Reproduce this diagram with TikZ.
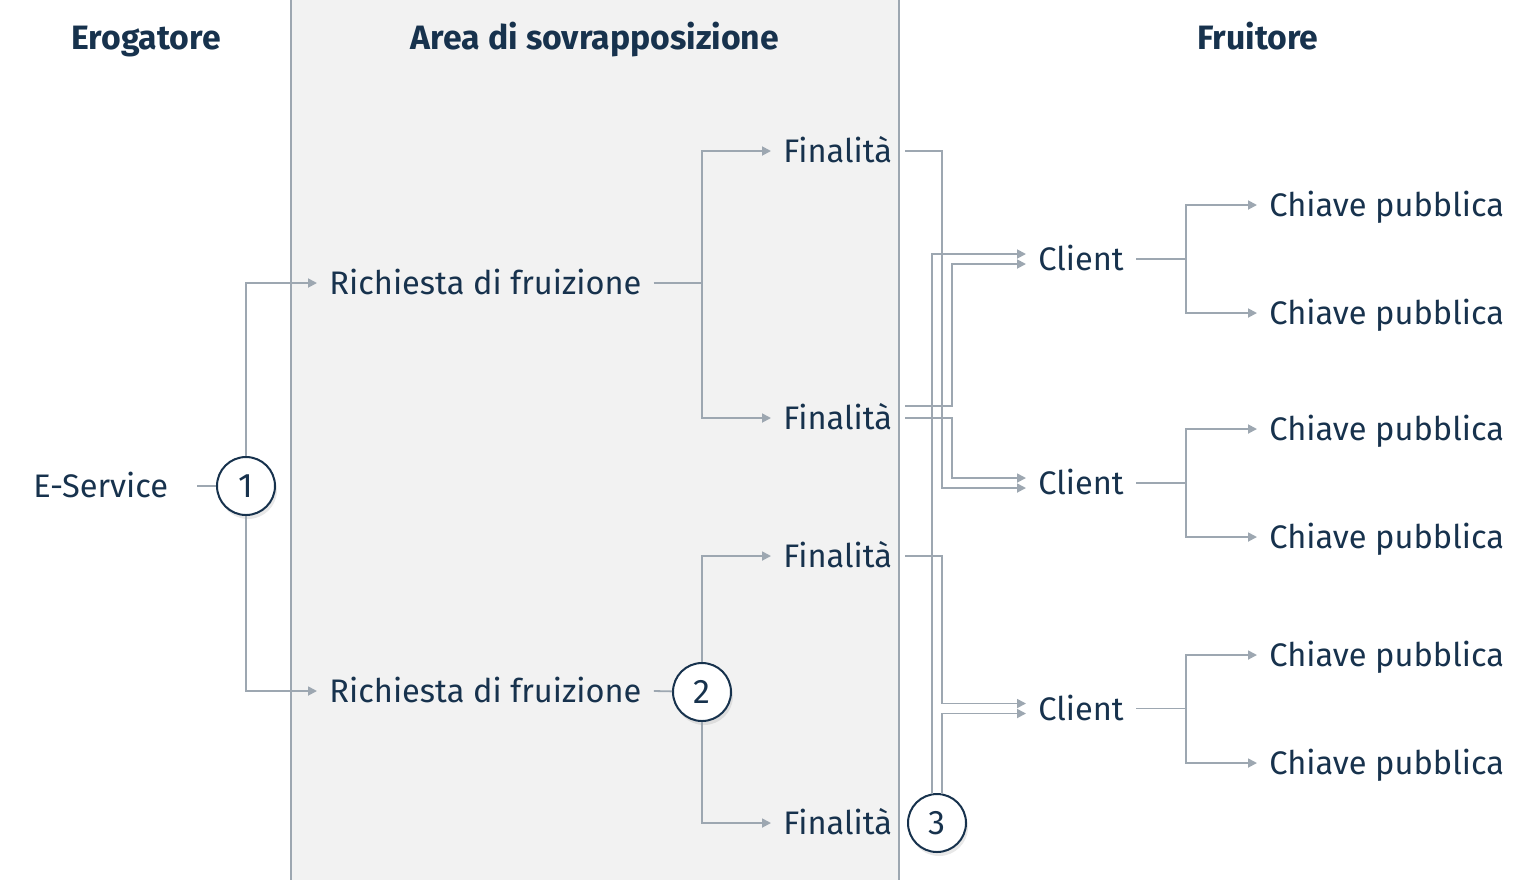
\documentclass[tikz,border=0pt]{standalone}
\usepackage{fontspec}
\setmainfont{Fira Sans}
\usetikzlibrary{positioning,calc,arrows.meta,shadows}
\definecolor{navy}{HTML}{17324D}
\definecolor{wire}{HTML}{9DA7B1}
\definecolor{band}{HTML}{F2F2F2}
\tikzstyle{item} = [inner xsep=6pt,
                    inner ysep=0pt,
                    anchor=west,
                    text height=11.8pt,
                    text depth=0pt,
                    text=navy,
                    font=\fontsize{16.3}{19}\selectfont]
\tikzstyle{head} = [anchor=base,
                    text=navy,
                    font=\fontsize{16.9}{20}\selectfont\bfseries]
\tikzstyle{badge} = [circle,
                     draw=navy,
                     line width=1pt,
                     fill=white,
                     minimum size=29pt,
                     inner sep=0pt,
                     text=navy,
                     font=\fontsize{17}{19}\selectfont,
                     drop shadow={opacity=0.18, shadow xshift=1pt, shadow yshift=-2pt}]
\tikzstyle{link} = [draw=wire, line width=0.9pt]
\tikzstyle{linkarr} = [link, -{Triangle[length=4.5pt, width=4.5pt]}]

\begin{document}
\begin{tikzpicture}[x=0.5pt, y=-0.5pt]
\useasboundingbox (0,0) rectangle (1536,880);
% colonna centrale
\fill[band] (291,0) rectangle (899,880);
\draw[link] (291,0) -- (291,880);
\draw[link] (899,0) -- (899,880);

\node (h1) [head] at (146,49) {Erogatore};
\node (h2) [head] at (595,49) {Area di sovrapposizione};
\node (h3) [head] at (1258,49) {Fruitore};

% erogatore
\node (c1) [badge] at (246,486) {1};
\node (es) [item] at (21,486) {E-Service};

% richieste e finalita
\node (r1) [item] at (317,283) {Richiesta di fruizione};
\node (r2) [item] at (317,691) {Richiesta di fruizione};
\node (c2) [badge] at (702,692) {2};
\node (f1) [item] at (771,151) {Finalità};
\node (f2) [item] at (771,418) {Finalità};
\node (f3) [item] at (771,556) {Finalità};
\node (f4) [item] at (771,823) {Finalità};
\node (c3) [badge] at (937,823) {3};

% fruitore
\node (cl1) [item] at (1026,259) {Client};
\node (cl2) [item] at (1026,483) {Client};
\node (cl3) [item] at (1026,708.5) {Client};
\node (k1) [item] at (1257,205) {Chiave pubblica};
\node (k2) [item] at (1257,313) {Chiave pubblica};
\node (k3) [item] at (1257,429) {Chiave pubblica};
\node (k4) [item] at (1257,537) {Chiave pubblica};
\node (k5) [item] at (1257,655) {Chiave pubblica};
\node (k6) [item] at (1257,763) {Chiave pubblica};

% colonne dei rami
\coordinate (t1) at (702,0);
\coordinate (t2) at (942,0);
\coordinate (t3) at (952,0);
\coordinate (t4) at (1186,0);
\coordinate (e1) at (905,0);

% collegamenti
\draw[link] (197,0 |- es.east) -- (c1);
\draw[linkarr] (c1) |- (r1.west);
\draw[linkarr] (c1) |- (r2.west);
\draw[linkarr] (r1.east) -- (r1.east -| t1) |- (f1.west);
\draw[linkarr] (r1.east) -- (r1.east -| t1) |- (f2.west);
\draw[link] (r2.east) -- (c2);
\draw[linkarr] (c2) |- (f3.west);
\draw[linkarr] (c2) |- (f4.west);

\draw[linkarr] (f1.east -| e1) -- (f1.east -| t2) |- ($(cl2.west)+(0,5)$);
\draw[linkarr] ($(f2.east -| e1)+(0,-12)$) -- ($(f2.east -| t3)+(0,-12)$) |- ($(cl1.west)+(0,5)$);
\draw[linkarr] (f2.east -| e1) -- (f2.east -| t3) |- ($(cl2.west)+(0,-5)$);
\draw[linkarr] (f3.east -| e1) -- (f3.east -| t2) |- ($(cl3.west)+(0,-5)$);
\draw[linkarr] ($(c3.north)+(-5,1)$) |- ($(cl1.west)+(0,-5)$);
\draw[linkarr] ($(c3.north)+(5,1)$) |- ($(cl3.west)+(0,5)$);

\draw[linkarr] (cl1.east) -- (cl1.east -| t4) |- (k1.west);
\draw[linkarr] (cl1.east) -- (cl1.east -| t4) |- (k2.west);
\draw[linkarr] (cl2.east) -- (cl2.east -| t4) |- (k3.west);
\draw[linkarr] (cl2.east) -- (cl2.east -| t4) |- (k4.west);
\draw[linkarr] (cl3.east) -- (cl3.east -| t4) |- (k5.west);
\draw[linkarr] (cl3.east) -- (cl3.east -| t4) |- (k6.west);
\end{tikzpicture}
\end{document}
